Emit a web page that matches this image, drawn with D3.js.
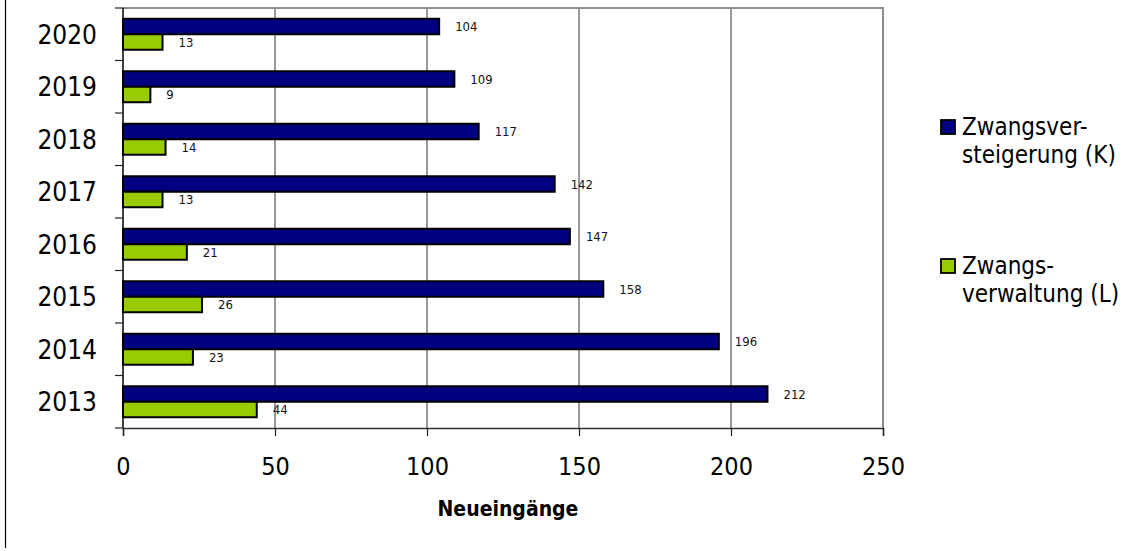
<!DOCTYPE html>
<html>
<head>
<meta charset="utf-8">
<script src="https://cdn.jsdelivr.net/npm/d3@7"></script>
<style>
  html, body { margin: 0; padding: 0; background: #fff; }
  svg { display: block; font-family: "DejaVu Sans Condensed", "DejaVu Sans", sans-serif; }
</style>
</head>
<body>
<svg id="chart" width="1147" height="551"></svg>
<script>
// Neueingänge je Jahr
const years = ["2020", "2019", "2018", "2017", "2016", "2015", "2014", "2013"];
const versteigerung = [104, 109, 117, 142, 147, 158, 196, 212];
const verwaltung = [13, 9, 14, 13, 21, 26, 23, 44];
const seriesKeys = ["K", "L"];
const seriesNames = [["Zwangsver-", "steigerung (K)"], ["Zwangs-", "verwaltung (L)"]];
const seriesColors = ["#000080", "#99cc00"];
const xTicks = [0, 50, 100, 150, 200, 250];
const axisTitle = "Neueingänge";

const fontStack = "\"DejaVu Sans Condensed\", \"DejaVu Sans\", sans-serif";
const svg = d3.select("#chart");
const plot = { left: 123, right: 883, top: 8, bottom: 428 };

const x = d3.scaleLinear().domain([0, 250]).range([plot.left, plot.right]);
const y = d3.scaleBand().domain(years).range([plot.top, plot.bottom]).paddingInner(0.41).paddingOuter(0.205);
const ySub = d3.scaleBand().domain(seriesKeys).range([0, y.bandwidth()]);

const rows = years.map((yr, i) => ({ year: yr, K: versteigerung[i], L: verwaltung[i] }));

// outer frame edge
svg.append("line")
  .attr("x1", 5.5).attr("x2", 5.5).attr("y1", 0).attr("y2", 548)
  .attr("stroke", "#000").attr("stroke-width", 1.2);

// vertical grid lines
svg.append("g")
  .selectAll("line")
  .data(xTicks.filter(t => t > 0 && t < 250))
  .join("line")
  .attr("x1", d => x(d)).attr("x2", d => x(d))
  .attr("y1", plot.top).attr("y2", plot.bottom)
  .attr("stroke", "#333").attr("stroke-width", 1);

// plot border (top and right)
svg.append("path")
  .attr("d", `M${plot.left},${plot.top}H${plot.right}V${plot.bottom}`)
  .attr("fill", "none").attr("stroke", "#8c8c8c").attr("stroke-width", 2);

// bars
const groups = svg.append("g").selectAll("g")
  .data(rows)
  .join("g")
  .attr("transform", d => `translate(0,${y(d.year)})`);

groups.selectAll("rect")
  .data(d => seriesKeys.map((k, i) => ({ key: k, value: d[k], color: seriesColors[i] })))
  .join("rect")
  .attr("x", x(0))
  .attr("y", d => ySub(d.key))
  .attr("width", d => x(d.value) - x(0))
  .attr("height", ySub.bandwidth())
  .attr("fill", d => d.color)
  .attr("stroke", "#000")
  .attr("stroke-width", 2);

// value labels
groups.selectAll("text")
  .data(d => seriesKeys.map(k => ({ key: k, value: d[k] })))
  .join("text")
  .attr("x", d => x(d.value) + 16)
  .attr("y", d => ySub(d.key) + ySub.bandwidth() / 2)
  .attr("dy", "0.35em")
  .attr("font-size", 13)
  .attr("fill", "#111")
  .text(d => d.value);

// x axis
const xAxis = d3.axisBottom(x).tickValues(xTicks).tickSize(8).tickPadding(21);
const gx = svg.append("g").attr("transform", `translate(0,${plot.bottom})`).call(xAxis);
gx.attr("font-family", fontStack).attr("font-size", 25);
gx.select(".domain").attr("stroke", "#333").attr("stroke-width", 1.5);
gx.selectAll(".tick line").attr("stroke", "#222").attr("stroke-width", 1.2);
gx.selectAll(".tick text").attr("font-size", 25).attr("fill", "#000");

// y axis with ticks on category boundaries
const yAxisLine = svg.append("g");
yAxisLine.append("line")
  .attr("x1", plot.left).attr("x2", plot.left)
  .attr("y1", plot.top).attr("y2", plot.bottom)
  .attr("stroke", "#000").attr("stroke-width", 1.5);
const boundaries = years.map(yr => y(yr) - y.step() * y.paddingInner() / 2).concat([plot.bottom]);
yAxisLine.selectAll("line.tick")
  .data(boundaries)
  .join("line")
  .attr("class", "tick")
  .attr("x1", plot.left - 8).attr("x2", plot.left)
  .attr("y1", d => d).attr("y2", d => d)
  .attr("stroke", "#222").attr("stroke-width", 1.2);

// year labels
svg.append("g").selectAll("text")
  .data(years)
  .join("text")
  .attr("x", 97)
  .attr("y", d => y(d) + y.bandwidth() / 2)
  .attr("dy", "0.36em")
  .attr("text-anchor", "end")
  .attr("font-size", 26)
  .attr("fill", "#000")
  .text(d => d);

// axis title
svg.append("text")
  .attr("x", 508).attr("y", 516)
  .attr("text-anchor", "middle")
  .attr("font-size", 21)
  .attr("font-weight", "bold")
  .attr("fill", "#000")
  .text(axisTitle);

// legend
const legendTop = [120, 259];
const legend = svg.append("g").selectAll("g")
  .data(seriesKeys.map((k, i) => ({ names: seriesNames[i], color: seriesColors[i], top: legendTop[i] })))
  .join("g")
  .attr("transform", d => `translate(941,${d.top})`);
legend.append("rect")
  .attr("x", 0).attr("y", 0).attr("width", 14).attr("height", 14)
  .attr("fill", d => d.color).attr("stroke", "#000").attr("stroke-width", 1.8);
legend.append("text")
  .attr("x", 21).attr("y", 15)
  .attr("font-size", 24)
  .attr("fill", "#000")
  .selectAll("tspan")
  .data(d => d.names)
  .join("tspan")
  .attr("x", 21)
  .attr("dy", (d, i) => i === 0 ? 0 : 28)
  .text(d => d);
</script>
</body>
</html>
